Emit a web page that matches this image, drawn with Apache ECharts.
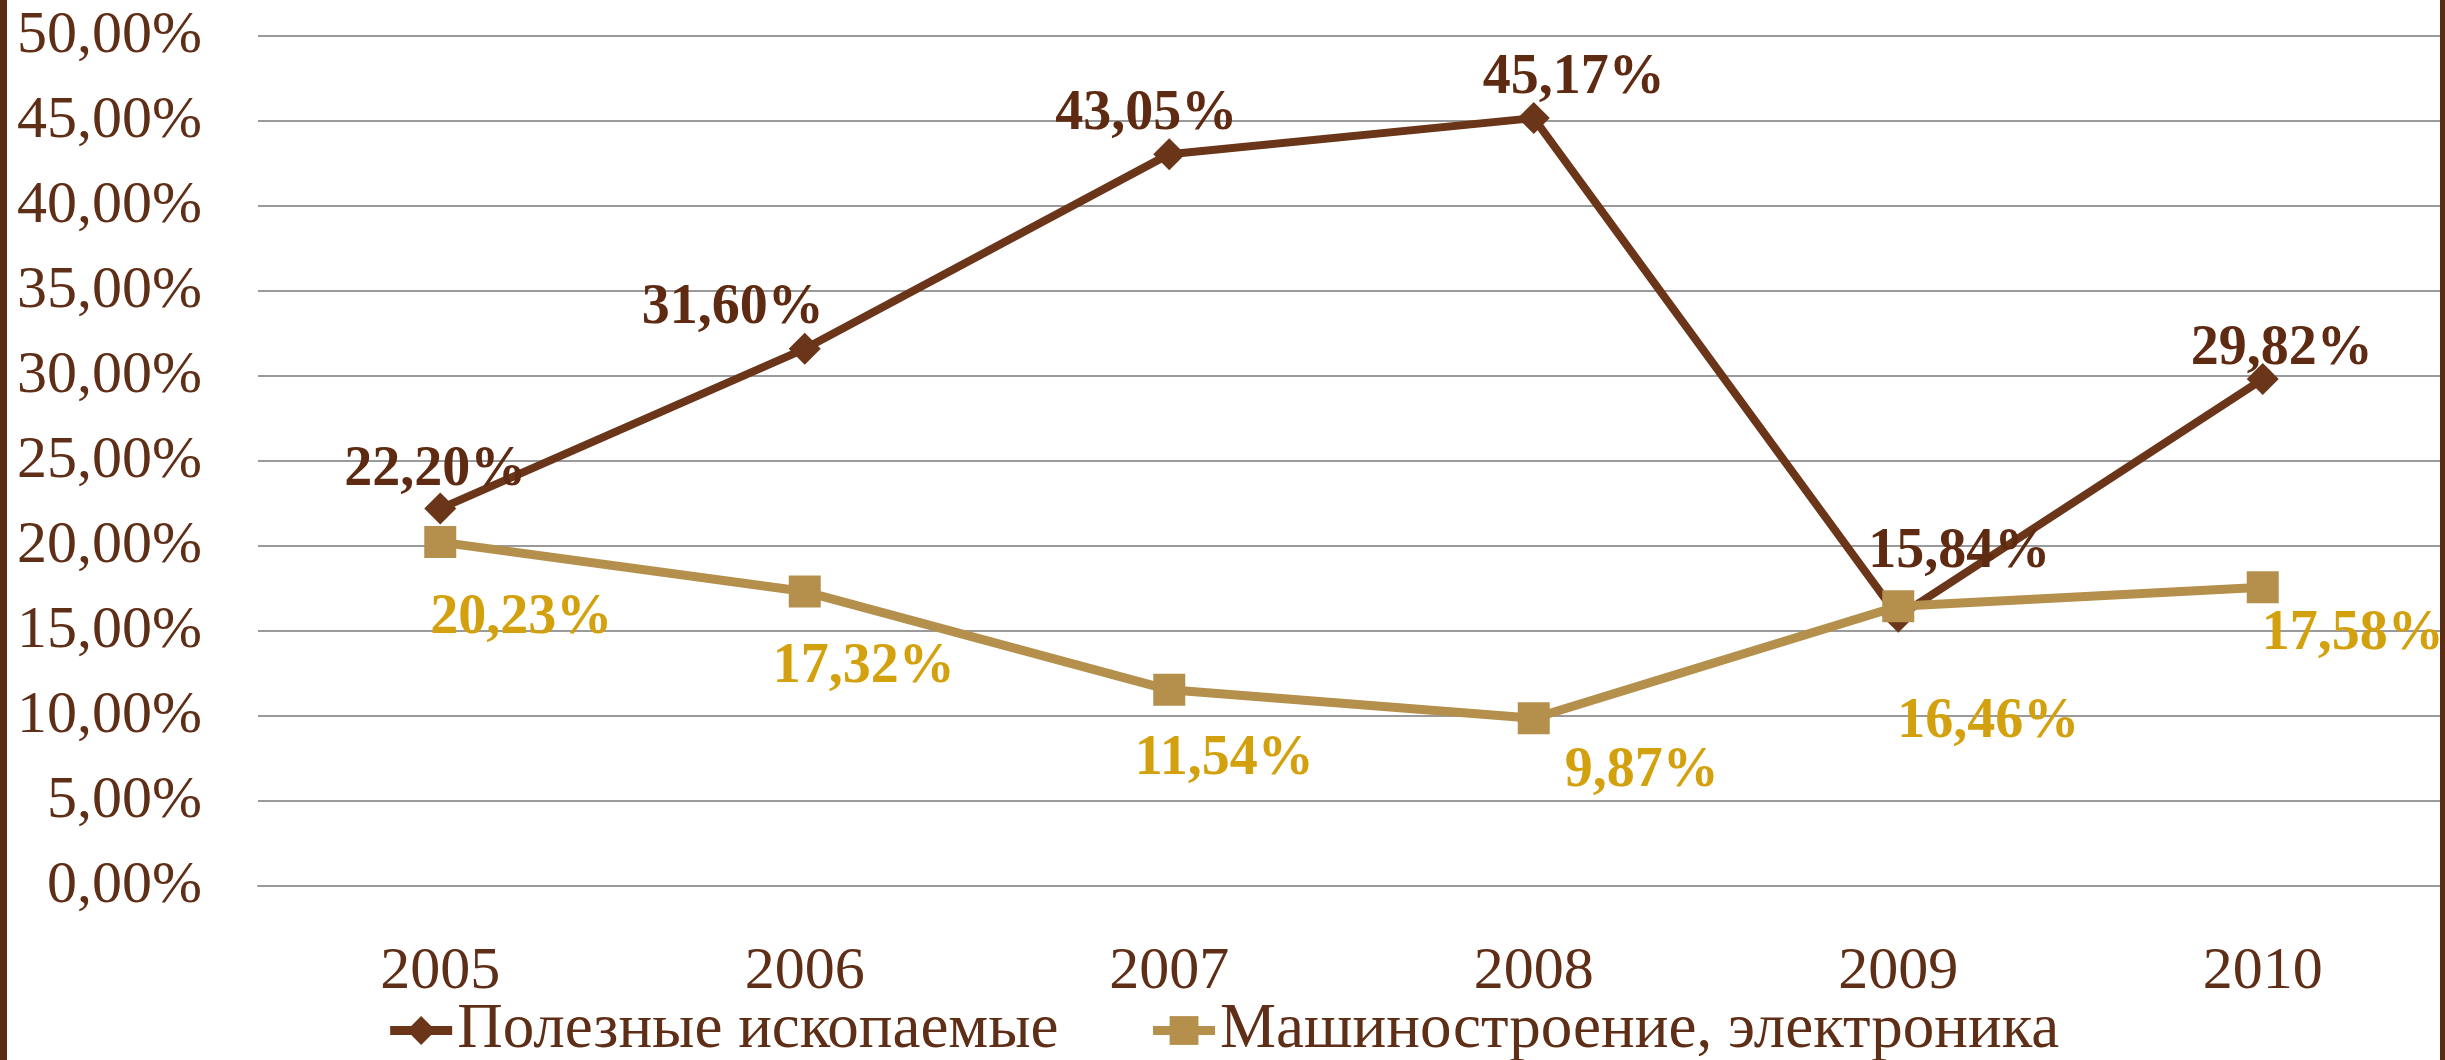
<!DOCTYPE html>
<html><head><meta charset="utf-8">
<script src="https://cdn.jsdelivr.net/npm/echarts@6/dist/echarts.min.js"></script>
<style>
html,body{margin:0;padding:0;background:#fff;}
#wrap{position:relative;width:2445px;height:1060px;overflow:hidden;}
#chart{position:absolute;left:0;top:0;width:2445px;height:1060px;}
#lb{position:absolute;left:0;top:0;width:7px;height:1060px;background:#5B2C14;}
#rb{position:absolute;right:0;top:0;width:5px;height:1060px;background:#5B2C14;}
</style></head>
<body><div id="wrap"><div id="chart"></div><div id="lb"></div><div id="rb"></div></div>
<script>
const years = ['2005','2006','2007','2008','2009','2010'];
const seriesNames = ['Полезные ископаемые','Машиностроение, электроника'];
const minerals = [22.20, 31.60, 43.05, 45.17, 15.84, 29.82];
const machinery = [20.23, 17.32, 11.54, 9.87, 16.46, 17.58];
const yTicks = {min: 0, max: 50, interval: 5};

// label placement offsets (style, px)
const mineralLabelOffsets = [[-5,-38],[-72,-40],[-23,-40],[40,-40],[61,-64],[19,-30]];
const machineryLabelOffsets = [[81,76],[59,76],[55,70],[108,53],[90,116],[90,47]];

const FONT = 'Liberation Serif';
const brown = '#6B3519', brownText = '#5E2A12';
const tan = '#B4904C', tanText = '#D4A10E';
const axisText = '#5E2E16';

function fmt(v){ return v.toFixed(2).replace('.', ',') + '%'; }

function mk(vals, offs){
  return vals.map((v,i)=>({value:v, label:{offset:offs[i]}}));
}

const chart = echarts.init(document.getElementById('chart'), null, {renderer:'canvas'});
chart.setOption({
  animation:false,
  backgroundColor:'#ffffff',
  grid:{left:258, top:36, width:2190, bottom:174, containLabel:false},
  xAxis:{type:'category', data:years, boundaryGap:true,
    axisLine:{show:true, lineStyle:{color:'#9A9A9A', width:2}},
    axisTick:{show:false},
    axisLabel:{color:axisText, fontFamily:FONT, fontSize:60, margin:56}},
  yAxis:{type:'value', min:yTicks.min, max:yTicks.max, interval:yTicks.interval,
    axisLine:{show:false}, axisTick:{show:false},
    splitLine:{lineStyle:{color:'#9A9A9A', width:2}},
    axisLabel:{color:axisText, fontFamily:FONT, fontSize:60, margin:56,
      formatter:v=>v.toFixed(2).replace('.', ',')+'%'}},
  legend:{bottom:-7, left:'center', itemGap:90, itemWidth:62, itemHeight:36,
    lineStyle:{width:9},
    textStyle:{color:axisText, fontFamily:FONT, fontSize:63},
    data:seriesNames},
  series:[
    {name:seriesNames[0], type:'line', data:mk(minerals, mineralLabelOffsets),
      symbol:'diamond', symbolSize:32, z:3,
      lineStyle:{color:brown, width:8}, itemStyle:{color:brown},
      label:{show:true, position:'inside', formatter:p=>fmt(p.value),
        color:brownText, fontFamily:FONT, fontWeight:'bold', fontSize:56}},
    {name:seriesNames[1], type:'line', data:mk(machinery, machineryLabelOffsets),
      symbol:'rect', symbolSize:32, z:4,
      lineStyle:{color:tan, width:9}, itemStyle:{color:tan},
      label:{show:true, position:'inside', formatter:p=>fmt(p.value),
        color:tanText, fontFamily:FONT, fontWeight:'bold', fontSize:56}}
  ]
});
</script></body></html>
